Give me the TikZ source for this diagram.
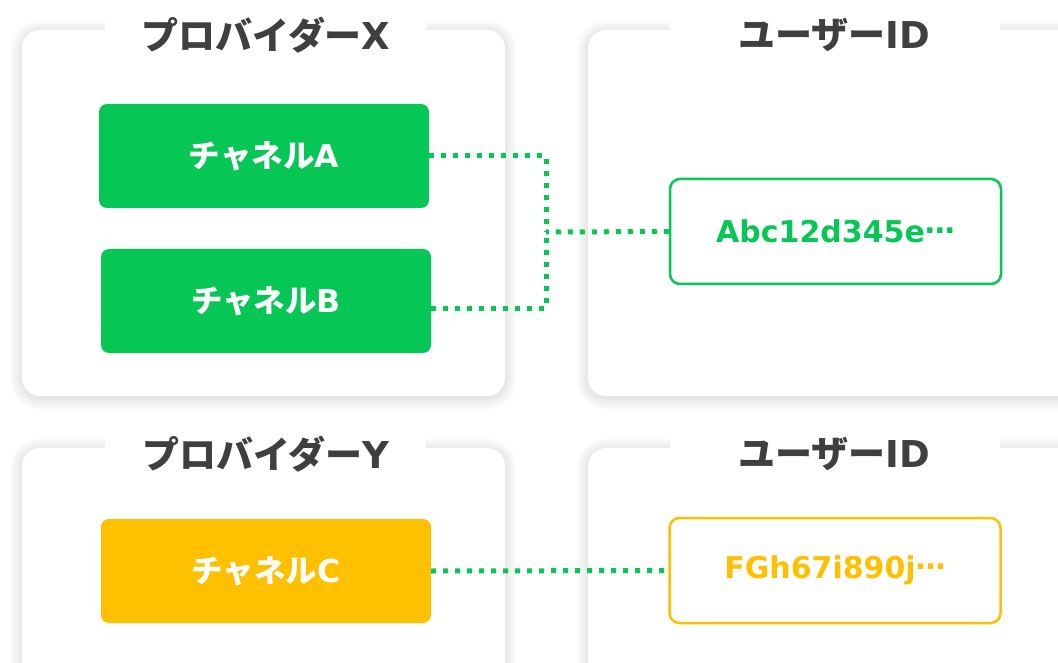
\documentclass[tikz,border=0pt]{standalone}
\usepackage{fontspec}
\setmainfont{DejaVu Sans}
\newfontfamily\jp{Noto Sans CJK JP}
\definecolor{lgreen}{HTML}{06C755}
\definecolor{lyellow}{HTML}{FFC000}
\definecolor{tgrey}{HTML}{3F3F3F}
\newcommand\jt[1]{{\jp\bfseries #1}}
\newcommand\midell{\raisebox{0.3em}{…}}
\newcommand\softpanel[2]{%
  \foreach \s in {1,...,12}{%
    \fill[black, opacity=0.009, rounded corners=18pt+\s pt]
      ($#1+(-\s,-\s+2)$) rectangle ($#2+(\s,\s+2)$);}
  \fill[white, rounded corners=18pt] #1 rectangle #2;}
\usetikzlibrary{calc}
\tikzset{
  tab/.style={fill=white},
  title/.style={text=tgrey, font=\bfseries\fontsize{37}{40}\selectfont, inner sep=0pt},
  chan/.style={rounded corners=8pt, minimum width=330pt, minimum height=104pt, inner sep=0pt,
    text=white, font=\bfseries\fontsize{31.5}{36}\selectfont},
  idbox/.style={rounded corners=10pt, line width=2.5pt, fill=white, minimum width=331pt,
    minimum height=105pt, inner sep=0pt, font=\bfseries\fontsize{30}{36}\selectfont},
  dots/.style={draw=lgreen, line width=5pt, dash pattern=on 5pt off 7pt}
}
\begin{document}
\begin{tikzpicture}[x=1pt,y=-1pt]
\clip (0,0) rectangle (1058,663);
\fill[white] (0,0) rectangle (1058,663);
% panels
\softpanel{(22,30)}{(505,396)}
\softpanel{(588,30)}{(1100,396)}
\softpanel{(22,448)}{(505,720)}
\softpanel{(588,448)}{(1100,720)}
% title tabs
\fill[tab] (105,-5) rectangle (426,50);
\fill[tab] (670,-5) rectangle (1000,50);
\fill[tab] (105,434) rectangle (426,474);
\fill[tab] (670,434) rectangle (1000,474);
\node[title] (tX) at (266,35) {\jt{プロバイダー}X};
\node[title] (tU1) at (834,35) {\jt{ユーザー}ID};
\node[title] (tY) at (266,454) {\jt{プロバイダー}Y};
\node[title] (tU2) at (834,454) {\jt{ユーザー}ID};
% channels
\node[chan, fill=lgreen] (A) at (264,156) {\jt{チャネル}A};
\node[chan, fill=lgreen] (B) at (266,301) {\jt{チャネル}B};
\node[chan, fill=lyellow] (C) at (266,571) {\jt{チャネル}C};
% ids
\node[idbox, draw=lgreen, text=lgreen] (I1) at (835.5,231.5) {Abc12d345e\midell};
\node[idbox, draw=lyellow, text=lyellow] (I2) at (835,570.5) {FGh67i890j\midell};
% connectors
\coordinate (J) at (546,232);
\coordinate (J2) at (546,308);
\draw[dots] (A.east) -| (J);
\draw[dots] (B.east |- J2) -| (J);
\draw[dots] (I1.west) -- (J);
\draw[dots] (C.east) -- (I2.west);
\end{tikzpicture}
\end{document}
